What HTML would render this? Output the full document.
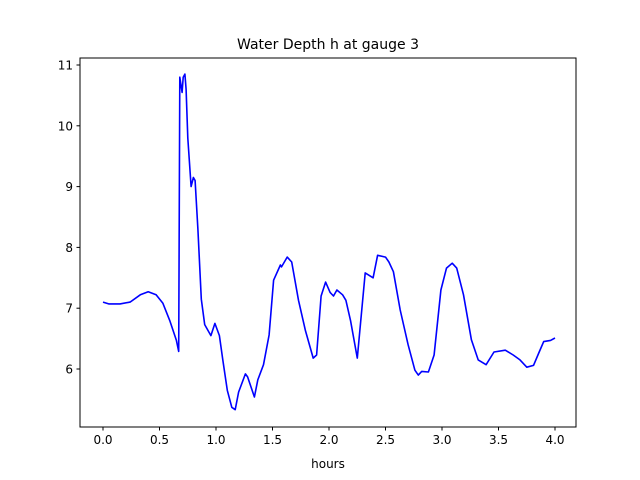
<!DOCTYPE html>
<html><head><meta charset="utf-8"><style>
body{margin:0;background:#fff;}
svg{display:block;font-family:"DejaVu Sans","Liberation Sans",sans-serif;}
</style></head><body>
<svg id="chart" width="640" height="480" viewBox="0 0 640 480">
<rect width="640" height="480" fill="#fff"/>
<text x="328" y="49" text-anchor="middle" font-size="14">Water Depth h at gauge 3</text>
<text x="328" y="468" text-anchor="middle" font-size="12">hours</text>
<g id="xt"></g><g id="yt"></g>
<path id="line" fill="none" stroke="#0000ff" stroke-width="1.6" stroke-linejoin="round"/>
<rect x="80" y="58" width="496" height="369" fill="none" stroke="#000" stroke-width="1"/>
</svg>
<script>
const times=[0,0.05,0.15,0.24,0.33,0.4,0.47,0.53,0.59,0.65,0.67,0.68,0.70,0.71,0.725,0.735,0.75,0.78,0.80,0.815,0.84,0.87,0.90,0.955,0.99,1.03,1.06,1.10,1.14,1.17,1.20,1.26,1.28,1.34,1.37,1.42,1.47,1.51,1.57,1.58,1.63,1.67,1.73,1.79,1.86,1.89,1.93,1.97,2.01,2.04,2.07,2.12,2.15,2.19,2.25,2.32,2.39,2.43,2.50,2.53,2.57,2.63,2.70,2.76,2.79,2.82,2.88,2.93,2.99,3.04,3.09,3.13,3.19,3.26,3.32,3.39,3.46,3.56,3.63,3.69,3.75,3.81,3.86,3.90,3.96,4.0];
const depths=[7.10,7.07,7.07,7.10,7.22,7.27,7.22,7.08,6.80,6.47,6.29,10.8,10.55,10.8,10.85,10.6,9.8,9.0,9.15,9.1,8.3,7.15,6.73,6.55,6.75,6.55,6.15,5.65,5.37,5.33,5.62,5.92,5.87,5.54,5.82,6.07,6.56,7.46,7.71,7.68,7.84,7.76,7.13,6.64,6.18,6.23,7.2,7.43,7.26,7.20,7.30,7.22,7.13,6.8,6.18,7.58,7.5,7.87,7.84,7.76,7.6,6.97,6.4,5.98,5.9,5.96,5.95,6.23,7.3,7.66,7.74,7.66,7.22,6.48,6.15,6.07,6.28,6.31,6.23,6.15,6.03,6.06,6.28,6.45,6.47,6.51];
const xTicks=[0,0.5,1,1.5,2,2.5,3,3.5,4];
const xTickLabels=["0.0","0.5","1.0","1.5","2.0","2.5","3.0","3.5","4.0"];
const yTicks=[6,7,8,9,10,11];
const yTickLabels=["6","7","8","9","10","11"];
const X=t=>103+t*113;
const Y=h=>65+(11-h)*60.8;
const NS="http://www.w3.org/2000/svg";
function mk(tag,attrs,parent){const e=document.createElementNS(NS,tag);for(const k in attrs)e.setAttribute(k,attrs[k]);parent.appendChild(e);return e;}
const xt=document.getElementById('xt'),yt=document.getElementById('yt');
xTicks.forEach((v,i)=>{
  const l=mk('line',{x1:X(v),x2:X(v),y1:427,y2:430.5,stroke:'#000'},xt);
  
  
  const t=mk('text',{x:X(v),y:444,'text-anchor':'middle','font-size':'12'},xt);
  t.textContent=xTickLabels[i];
  
  
});
yTicks.forEach((v,i)=>{
  const l=mk('line',{x1:76.5,x2:80,y1:Y(v),y2:Y(v),stroke:'#000'},yt);
  
  
  const t=mk('text',{x:73,y:Y(v)+4.5,'text-anchor':'end','font-size':'12'},yt);
  t.textContent=yTickLabels[i];
  
  
});
document.getElementById('line').setAttribute('d',times.map((t,i)=>(i?'L':'M')+X(t).toFixed(1)+','+Y(depths[i]).toFixed(1)).join(''));
</script>
</body></html>
